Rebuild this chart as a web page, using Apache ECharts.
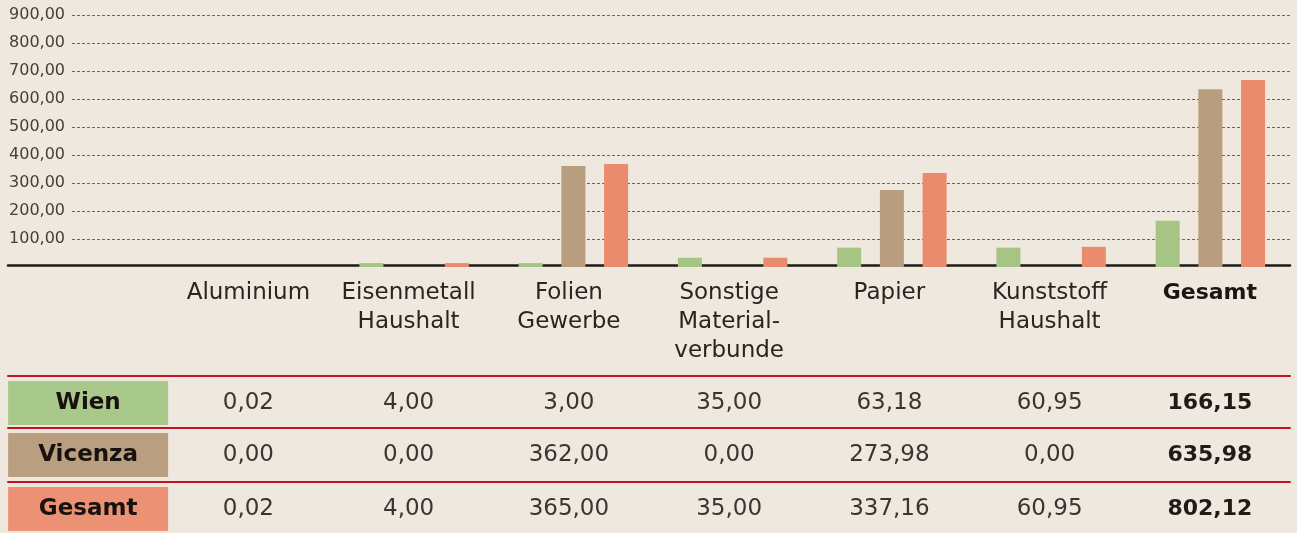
<!DOCTYPE html>
<html>
<head>
<meta charset="utf-8">
<script src="https://cdn.jsdelivr.net/npm/echarts@6/dist/echarts.min.js"></script>
<style>
  html, body { margin: 0; padding: 0; background: #eee8de; }
  #chart { width: 1297px; height: 533px; }
</style>
</head>
<body>
<div id="chart"></div>
<script>
// ---- data ----
const categories = ['', 'Aluminium', 'Eisenmetall\nHaushalt', 'Folien\nGewerbe', 'Sonstige\nMaterial-\nverbunde', 'Papier', 'Kunststoff\nHaushalt', 'Gesamt'];
const seriesNames = ['Wien', 'Vicenza', 'Gesamt'];
// bar heights as drawn in the picture (first slot is the label column)
const wienBars    = [null, 0, 14, 14, 33, 69, 69, 165];
const vicenzaBars = [null, 0, 0, 361, 0, 275, 0, 635];
const gesamtBars  = [null, 0, 14, 368, 33, 336, 72, 668];
// table values
const wienTable    = ['0,02', '4,00', '3,00', '35,00', '63,18', '60,95', '166,15'];
const vicenzaTable = ['0,00', '0,00', '362,00', '0,00', '273,98', '0,00', '635,98'];
const gesamtTable  = ['0,02', '4,00', '365,00', '35,00', '337,16', '60,95', '802,12'];
const yTicks = { min: 0, max: 900, interval: 100 };

// ---- styling ----
const FONT = '"DejaVu Sans", sans-serif';
const colors = ['#a6c585', '#b89e7e', '#eb8b6d'];
const boxColors = ['#a9c98b', '#b99f80', '#ec9173'];
const RED = '#c4121f';

const chart = echarts.init(document.getElementById('chart'), null, { renderer: 'canvas' });

const TOP = 15, H = 252;
const rowLines = [376, 428, 482];
const tables = [wienTable, vicenzaTable, gesamtTable];

const grids = [
  { left: 16, right: 7, top: TOP, height: H },   // bars
  { left: 8, right: 7, top: TOP, height: H },    // category labels + baseline
  { left: 72, right: 7, top: TOP, height: H }    // y ticks + grid lines
];
rowLines.forEach(y => grids.push({ left: 8, right: 7, top: y - 10, height: 10 }));

const xAxes = [
  { gridIndex: 0, type: 'category', data: categories, show: false },
  {
    gridIndex: 1, type: 'category', data: categories, offset: -2,
    axisLine: { onZero: false, lineStyle: { color: '#1e1a18', width: 2.5 } },
    axisTick: { show: false },
    axisLabel: {
      interval: 0, margin: 14, fontFamily: FONT, fontSize: 23, color: '#2a2522', lineHeight: 29,
      formatter: (v, i) => i === categories.length - 1 ? '{b|' + v + '}' : v,
      rich: { b: { fontFamily: FONT, fontSize: 22, fontWeight: 'bold', color: '#1a1614', lineHeight: 29 } }
    }
  },
  { gridIndex: 2, type: 'category', data: categories, show: false }
];
const yAxes = [
  { gridIndex: 0, type: 'value', ...yTicks, show: false },
  { gridIndex: 1, type: 'value', ...yTicks, show: false },
  {
    gridIndex: 2, type: 'value', ...yTicks,
    axisLine: { show: false }, axisTick: { show: false },
    axisLabel: {
      margin: 7, fontFamily: FONT, fontSize: 16, color: '#45403c',
      formatter: v => v === 0 ? '' : v.toFixed(2).replace('.', ',')
    },
    splitLine: { show: true, showMinLine: false, lineStyle: { color: '#6a6560', type: [3, 2], width: 1 } }
  }
];

tables.forEach((tbl, r) => {
  const gi = 3 + r;
  const labels = [seriesNames[r]].concat(tbl);
  xAxes.push({
    gridIndex: gi, type: 'category', data: labels,
    axisLine: { onZero: false, lineStyle: { color: RED, width: 2 } },
    axisTick: { show: false },
    axisLabel: {
      interval: 0, margin: 5,
      formatter: (v, i) => i === 0 ? '{box|' + v + '}' : (i === labels.length - 1 ? '{b|' + v + '}' : '{n|' + v + '}'),
      rich: {
        box: { backgroundColor: boxColors[r], width: 160, height: 44, lineHeight: 44, align: 'center',
               fontFamily: FONT, fontSize: 23, fontWeight: 'bold', color: '#17120f' },
        n: { fontFamily: FONT, fontSize: 23, color: '#3a3532', lineHeight: 44, height: 44 },
        b: { fontFamily: FONT, fontSize: 22, fontWeight: 'bold', color: '#1f1b18', lineHeight: 44, height: 44 }
      }
    }
  });
  yAxes.push({ gridIndex: gi, type: 'value', show: false });
});

const barSeries = [wienBars, vicenzaBars, gesamtBars].map((d, i) => ({
  name: seriesNames[i], type: 'bar', xAxisIndex: 0, yAxisIndex: 0,
  data: d, barWidth: 24, barGap: '78%',
  itemStyle: { color: colors[i] }, z: 3
}));

chart.setOption({
  backgroundColor: '#eee8de',
  animation: false,
  grid: grids,
  xAxis: xAxes,
  yAxis: yAxes,
  series: barSeries
});
</script>
</body>
</html>
